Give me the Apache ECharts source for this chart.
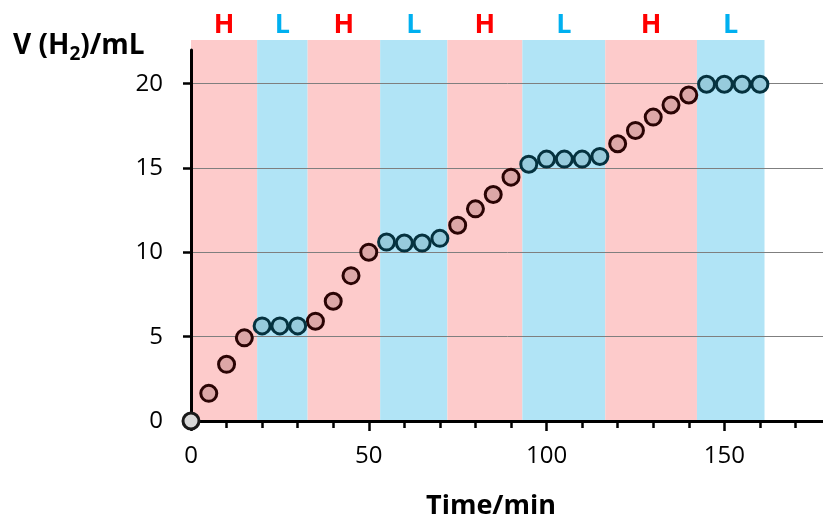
<!DOCTYPE html>
<html>
<head>
<meta charset="utf-8">
<script src="https://cdn.jsdelivr.net/npm/echarts@6/dist/echarts.min.js"></script>
<style>
  html, body { margin: 0; padding: 0; background: #fff; }
  #chart { width: 823px; height: 522px; }
</style>
</head>
<body>
<div id="chart"></div>
<script>
// sampling times (min) and collected gas volume (mL)
const times = [0, 5, 10, 15, 20, 25, 30, 35, 40, 45, 50, 55, 60, 65, 70, 75, 80,
  85, 90, 95, 100, 105, 110, 115, 120, 125, 130, 135, 140, 145, 150, 155, 160];
const volumes = [0, 1.64, 3.36, 4.93, 5.64, 5.64, 5.64, 5.92, 7.10, 8.62, 10.01,
  10.61, 10.55, 10.55, 10.83, 11.61, 12.58, 13.43, 14.46, 15.23, 15.53, 15.53,
  15.53, 15.69, 16.44, 17.23, 18.02, 18.74, 19.33, 19.97, 19.97, 19.97, 19.97];

// H / L phases (shaded bands)
const phaseNames = ["H", "L", "H", "L", "H", "L", "H", "L"];
const phaseStart = [0, 18.6, 32.8, 53.2, 72.1, 93.2, 116.5, 142.3];
const phaseEnd = [18.6, 32.8, 53.2, 72.1, 93.2, 116.5, 142.3, 161.3];

const yTicks = [0, 5, 10, 15, 20];

const font = "Open Sans";
const bandColor = { H: "#fdcbcb", L: "#b1e4f6" };
const labelColor = { H: "#ff0000", L: "#00b0f0" };
const pointStyle = {
  start: { color: "#d9d9d9", borderColor: "#1a1a1a" },
  H: { color: "#dca7a7", borderColor: "#2a0404" },
  L: { color: "#97cbdc", borderColor: "#05323f" },
};

const phaseOf = (t) => {
  for (let i = 0; i < phaseNames.length; i++) {
    if (t >= phaseStart[i] && t < phaseEnd[i]) return phaseNames[i];
  }
  return "L";
};

const groups = { start: [], H: [], L: [] };
times.forEach((t, i) => {
  const key = i === 0 ? "start" : phaseOf(t);
  groups[key].push([t, volumes[i]]);
});

const bandAreas = phaseNames.map((p, i) => [
  {
    xAxis: phaseStart[i],
    name: p,
    itemStyle: { color: bandColor[p] },
    label: { color: labelColor[p] },
  },
  { xAxis: phaseEnd[i] },
]);

const scatterSeries = ["start", "H", "L"].map((key) => ({
  name: key,
  type: "scatter",
  xAxisIndex: 0,
  yAxisIndex: 0,
  symbol: "circle",
  symbolSize: 16,
  z: 5,
  itemStyle: {
    color: pointStyle[key].color,
    borderColor: pointStyle[key].borderColor,
    borderWidth: 3,
    opacity: 1,
  },
  data: groups[key],
}));

const chart = echarts.init(document.getElementById("chart"));
chart.setOption({
  animation: false,
  textStyle: { fontFamily: font },
  title: [
    {
      text: "{a|V (H}{s|2}{a|)/mL}",
      left: 13,
      top: 28,
      padding: 0,
      textStyle: {
        rich: {
          a: { fontFamily: font, fontSize: 28, fontWeight: "bold", color: "#000", lineHeight: 36 },
          s: { fontFamily: font, fontSize: 19, fontWeight: "bold", color: "#000", lineHeight: 19, verticalAlign: "bottom" },
        },
      },
    },
    {
      text: "Time/min",
      left: 491,
      top: 493,
      textAlign: "center",
      padding: 0,
      textStyle: { fontFamily: font, fontSize: 27, fontWeight: "bold", color: "#000" },
    },
  ],
  grid: [
    { left: 191, width: 640, top: 50, bottom: 101, outerBoundsMode: "none", containLabel: false },
    { left: 191, width: 640, top: 40, bottom: 101, outerBoundsMode: "none", containLabel: false },
  ],
  xAxis: [
    {
      gridIndex: 0,
      type: "value",
      min: 0,
      max: 180,
      interval: 10,
      z: 3,
      axisLine: { lineStyle: { color: "#000", width: 3 } },
      axisTick: { length: 7, lineStyle: { color: "#000", width: 2.5 } },
      axisLabel: {
        fontFamily: font,
        fontSize: 24,
        color: "#000",
        margin: 23,
        formatter: (v) => (v % 50 === 0 ? String(v) : ""),
      },
      splitLine: { show: false },
    },
    {
      gridIndex: 1,
      type: "value",
      min: 0,
      max: 180,
      interval: 50,
      z: 3,
      axisLine: { show: false },
      axisTick: { length: 10, lineStyle: { color: "#000", width: 2.5 } },
      axisLabel: { show: false },
      splitLine: { show: false },
    },
  ],
  yAxis: [
    {
      gridIndex: 0,
      type: "value",
      min: 0,
      max: 22,
      interval: 5,
      z: 3,
      axisLine: { lineStyle: { color: "#000", width: 3 } },
      axisTick: { length: 8, customValues: yTicks, lineStyle: { color: "#000", width: 2.5 } },
      axisLabel: {
        fontFamily: font,
        fontSize: 24,
        color: "#000",
        margin: 28,
        customValues: yTicks,
        formatter: (v) => (v % 5 === 0 ? String(v) : ""),
      },
      splitLine: {
        show: true,
        lineStyle: {
          color: ["#7f7f7f", "#7f7f7f", "#7f7f7f", "#7f7f7f", "#7f7f7f", "rgba(0,0,0,0)"],
          width: 1,
        },
      },
    },
    { gridIndex: 1, type: "value", min: 0, max: 1, show: false },
  ],
  series: [
    {
      name: "bands",
      type: "line",
      xAxisIndex: 1,
      yAxisIndex: 1,
      z: 1,
      showSymbol: false,
      silent: true,
      lineStyle: { opacity: 0 },
      data: [],
      markArea: {
        silent: true,
        label: {
          show: true,
          position: "top",
          distance: 1,
          fontFamily: font,
          fontSize: 27,
          fontWeight: "bold",
        },
        data: bandAreas,
      },
    },
    ...scatterSeries,
  ],
});
</script>
</body>
</html>
